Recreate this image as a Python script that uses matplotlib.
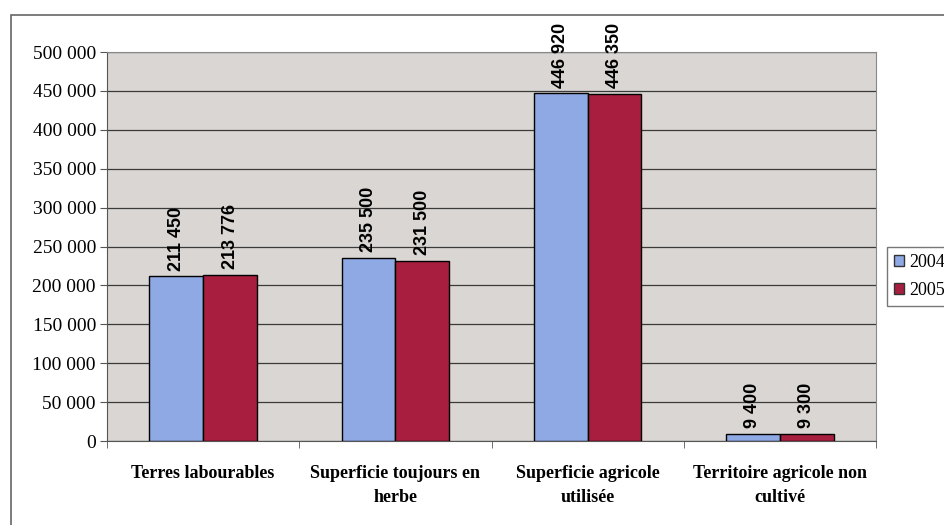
import matplotlib.pyplot as plt
import matplotlib.patches as mpatches
from matplotlib.ticker import FuncFormatter
import numpy as np

categories = ['Terres labourables', 'Superficie toujours en\nherbe',
              'Superficie agricole\nutilisée', 'Territoire agricole non\ncultivé']
v2004 = [211450, 235500, 446920, 9400]
v2005 = [213776, 231500, 446350, 9300]
years = ['2004', '2005']

blue = '#8ea9e3'
red = '#a81e3e'

fig = plt.figure(figsize=(9.44, 5.25), dpi=100)
fig.patch.set_facecolor('white')

# outer chart frame
fig.patches.append(mpatches.Rectangle((11 / 944, -0.1), 1.2, 1 - 15 / 525 + 0.1,
                                      transform=fig.transFigure, fill=False,
                                      edgecolor='#666666', lw=1.2))

ax = fig.add_axes([107 / 944, 1 - 441 / 525, (876 - 107) / 944, (441 - 52) / 525])
ax.set_facecolor('#d9d6d3')

x = np.arange(len(categories))
w = 0.28
b1 = ax.bar(x - w / 2, v2004, w, color=blue, edgecolor='black', lw=1, label=years[0], zorder=3)
b2 = ax.bar(x + w / 2, v2005, w, color=red, edgecolor='black', lw=1, label=years[1], zorder=3)

fmt = lambda v: f'{int(v):,}'.replace(',', ' ')
for bars, vals in [(b1, v2004), (b2, v2005)]:
    for r, v in zip(bars, vals):
        ax.annotate(fmt(v), (r.get_x() + r.get_width() / 2, v), xytext=(0, 4),
                    textcoords='offset points', rotation=90, ha='center', va='bottom',
                    fontsize=13, fontweight='bold', family='Liberation Sans',
                    annotation_clip=False)

ax.set_ylim(0, 500000)
ax.set_xlim(-0.5, len(categories) - 0.5)
ax.set_yticks(np.arange(0, 500001, 50000))
ax.yaxis.set_major_formatter(FuncFormatter(lambda v, p: fmt(v)))
ax.grid(axis='y', color='#3a3a3a', lw=0.9, zorder=1)
ax.set_axisbelow(True)

ax.set_xticks(x)
ax.set_xticklabels(categories, fontsize=13, fontweight='bold', family='Liberation Serif',
                   linespacing=1.55)
ax.tick_params(axis='x', length=0, pad=17)
ax.set_xticks(np.arange(-0.5, len(categories), 1), minor=True)
ax.tick_params(axis='x', which='minor', length=5, color='#555555')
for t in ax.get_yticklabels():
    t.set_family('Liberation Serif')
    t.set_fontsize(14)
ax.tick_params(axis='y', length=5, color='#555555', pad=3)

for s in ['left', 'bottom']:
    ax.spines[s].set_color('#555555')
for s in ['top', 'right']:
    ax.spines[s].set_color('#888888')

handles = [mpatches.Patch(facecolor=blue, edgecolor='#333333', label=years[0]),
           mpatches.Patch(facecolor=red, edgecolor='#333333', label=years[1])]
leg = fig.legend(handles=handles, loc='upper left', bbox_to_anchor=(887 / 944, 1 - 247 / 525),
                 prop={'family': 'Liberation Serif', 'size': 13}, frameon=True, fancybox=False,
                 edgecolor='#555555', handlelength=0.55, handleheight=0.55, handletextpad=0.3,
                 labelspacing=0.6, borderpad=0.4, borderaxespad=0)

fig.savefig('out.png', dpi=100)
